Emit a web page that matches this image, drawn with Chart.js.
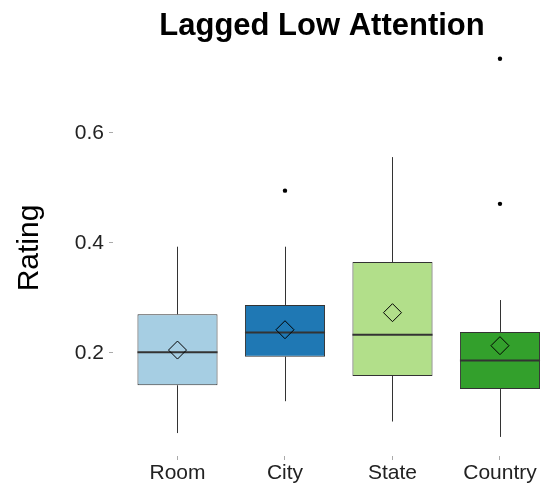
<!DOCTYPE html>
<html>
<head>
<meta charset="utf-8">
<script src="https://cdn.jsdelivr.net/npm/chart.js@4/dist/chart.umd.min.js"></script>
<style>
  html, body { margin: 0; padding: 0; background: #fff; }
  #wrap { width: 549px; height: 492px; }
</style>
</head>
<body>
<div id="wrap"><canvas id="box"></canvas></div>
<script>
const categories = ['Room', 'City', 'State', 'Country'];
const boxColors = ['#a6cee3', '#1f78b4', '#b2df8a', '#33a02c'];

// box stats
const whiskerLow = [0.054, 0.112, 0.075, 0.047];
const q1 = [0.141, 0.193, 0.158, 0.134];
const median = [0.201, 0.237, 0.233, 0.186];
const q3 = [0.270, 0.287, 0.365, 0.238];
const whiskerHigh = [0.393, 0.393, 0.556, 0.296];
const means = [0.205, 0.242, 0.273, 0.213];
const outlierGroup = [2, 4, 4];
const outlierValue = [0.495, 0.735, 0.471];

const yTicks = [0.2, 0.4, 0.6];

const font = '"Liberation Sans", Arial, sans-serif';

// whiskers + median lines, drawn right after the boxes
const boxExtras = {
    id: 'boxExtras',
    afterDatasetDraw(chart, args) {
        if (args.index !== 2) return;
        const ctx = chart.ctx;
        const y = chart.scales.y;
        const bars = args.meta.data;
        ctx.save();
        bars.forEach((bar, i) => {
            const x = Math.round(bar.x) + 0.5;
            ctx.strokeStyle = '#333';
            ctx.lineWidth = 1;
            ctx.beginPath();
            ctx.moveTo(x, y.getPixelForValue(q3[i]));
            ctx.lineTo(x, y.getPixelForValue(whiskerHigh[i]));
            ctx.moveTo(x, y.getPixelForValue(q1[i]));
            ctx.lineTo(x, y.getPixelForValue(whiskerLow[i]));
            ctx.stroke();

            const ym = y.getPixelForValue(median[i]);
            ctx.lineWidth = 2;
            ctx.beginPath();
            ctx.moveTo(bar.x - bar.width / 2, ym);
            ctx.lineTo(bar.x + bar.width / 2, ym);
            ctx.stroke();
        });
        ctx.restore();
    }
};

const plotTitle = {
    id: 'plotTitle',
    afterDraw(chart) {
        const {ctx, chartArea} = chart;
        ctx.save();
        ctx.font = 'bold 31px ' + font;
        ctx.fillStyle = '#000';
        ctx.textAlign = 'center';
        ctx.textBaseline = 'alphabetic';
        ctx.fillText('Lagged Low Attention', (chartArea.left + chartArea.right) / 2 - 9, 35);
        ctx.restore();
    }
};

new Chart(document.getElementById('box'), {
    type: 'bar',
    data: {
        datasets: [
            {
                type: 'scatter',
                data: means.map((m, i) => ({x: i + 1, y: m})),
                pointStyle: 'rectRot',
                pointRadius: 9,
                backgroundColor: 'rgba(0,0,0,0)',
                borderColor: '#000',
                borderWidth: 1,
                order: 1
            },
            {
                type: 'scatter',
                data: outlierValue.map((v, i) => ({x: outlierGroup[i], y: v})),
                pointRadius: 2.2,
                backgroundColor: '#000',
                borderWidth: 0,
                order: 2
            },
            {
                type: 'bar',
                data: categories.map((c, i) => ({x: i + 1, y: [q1[i], q3[i]]})),
                backgroundColor: boxColors,
                borderColor: '#333',
                borderWidth: 1,
                borderSkipped: false,
                categoryPercentage: 1,
                barPercentage: 0.745,
                order: 3
            }
        ]
    },
    options: {
        responsive: true,
        maintainAspectRatio: false,
        animation: false,
        layout: { autoPadding: false, padding: { top: 40, left: 0, right: 0, bottom: 0 } },
        plugins: {
            legend: { display: false },
            tooltip: { enabled: false },
            title: { display: false }
        },
        scales: {
            x: {
                type: 'linear',
                offset: false,
                min: 0.4,
                max: 4.456,
                afterBuildTicks: (scale) => {
                    scale.ticks = categories.map((c, i) => ({value: i + 1}));
                },
                afterFit: (scale) => {
                    scale.height = 36;
                    scale.paddingLeft = 0;
                    scale.paddingRight = 0;
                },
                ticks: {
                    callback: (v) => categories[v - 1],
                    color: '#222',
                    font: { family: font, size: 21 },
                    padding: 1,
                    maxRotation: 0,
                    autoSkip: false
                },
                grid: { offset: false, drawOnChartArea: false, tickLength: 4, tickColor: '#aaa' },
                border: { display: false }
            },
            y: {
                min: 0.0123,
                max: 0.769,
                afterBuildTicks: (scale) => {
                    scale.ticks = yTicks.map(v => ({value: v}));
                },
                afterFit: (scale) => { scale.width = 113; },
                ticks: {
                    callback: (v) => v.toFixed(1),
                    color: '#222',
                    font: { family: font, size: 21 },
                    padding: 5
                },
                grid: { drawOnChartArea: false, tickLength: 4, tickColor: '#aaa' },
                border: { display: false },
                title: {
                    display: true,
                    text: 'Rating',
                    color: '#000',
                    font: { family: font, size: 30 },
                    padding: { top: 12, bottom: 0 }
                }
            }
        }
    },
    plugins: [boxExtras, plotTitle]
});
</script>
</body>
</html>
